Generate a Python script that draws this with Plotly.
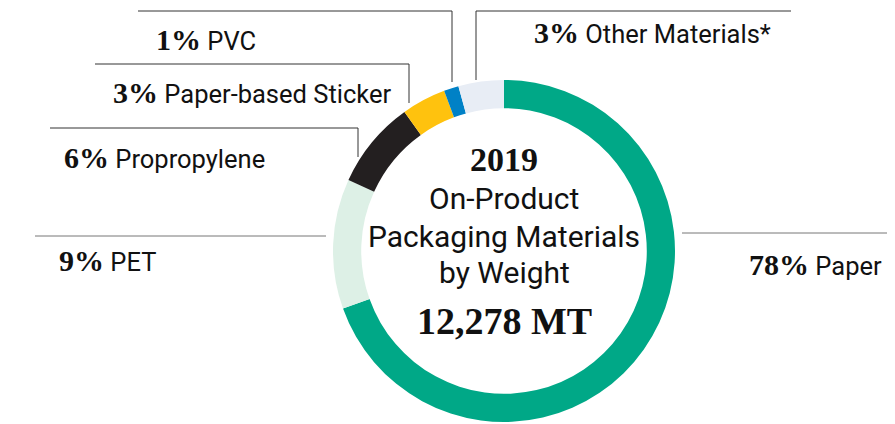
import plotly.graph_objects as go

# ---- data ----
materials = ["Paper", "PET", "Propropylene", "Paper-based Sticker", "PVC", "Other Materials*"]
label_pct = [78, 9, 6, 3, 1, 3]                  # percentages printed on the chart
drawn_share = [69.6, 12.3, 8.3, 4.2, 1.4, 4.3]   # arc sizes as drawn in the ring
colors = ["#00A887", "#DDF0E6", "#231F20", "#FFC20E", "#0081C6", "#E8EDF5"]
center_lines = ["2019", "On-Product", "Packaging Materials", "by Weight", "12,278 MT"]

W, H = 895, 424
OFF = 8  # default page body margin
SANS = "Roboto, Liberation Sans, sans-serif"
SERIF = "Liberation Serif"

# ring geometry (page pixels)
cx, cy, R = 504, 251, 171
FW, FH = W - OFF, H - OFF

fig = go.Figure()
fig.add_trace(go.Pie(
    labels=materials, values=drawn_share, sort=False, direction="clockwise",
    rotation=0, hole=0.835, textinfo="none", showlegend=False,
    marker=dict(colors=colors, line=dict(width=0)),
    customdata=label_pct, hovertemplate="%{label}: %{customdata}%<extra></extra>",
    domain=dict(x=[(cx - R - OFF) / FW, (cx + R - OFF) / FW],
                y=[(H - cy - R) / FH, (H - cy + R) / FH]),
))

# leader lines (page pixel coordinates on hidden axes)
leaders = [
    ([138, 452, 452], [11, 11, 82], "#333333"),
    ([791, 476, 476], [11, 11, 80], "#333333"),
    ([95, 409, 409], [64, 64, 103], "#333333"),
    ([50, 358, 358], [128, 128, 157], "#333333"),
    ([35, 326], [236, 236], "#777777"),
    ([682, 900], [233, 233], "#777777"),
]
shapes = []
for xs, ys, c in leaders:
    path = "M " + " L ".join(f"{x},{y}" for x, y in zip(xs, ys))
    shapes.append(dict(type="path", path=path, xref="x", yref="y",
                       line=dict(color=c, width=1)))

# labels: (index, left x, baseline y)
label_pos = {4: (155, 49), 5: (533, 42), 3: (112, 102), 2: (63, 167), 1: (58, 270), 0: (748, 274)}
annotations = []
for i, (x, yb) in label_pos.items():
    txt = (f"<b><span style='font-family:{SERIF};font-size:30px'>{label_pct[i]}%</span></b>"
           f" {materials[i]}")
    annotations.append(dict(x=x, y=yb - 10, xref="x", yref="y", text=txt, showarrow=False,
                            xanchor="left", yanchor="middle", borderpad=0,
                            font=dict(family=SANS, size=25.5, color="#111111")))

# center text
center_specs = [
    (center_lines[0], 172, SERIF, 34, True),
    (center_lines[1], 209, SANS, 30, False),
    (center_lines[2], 247, SANS, 30, False),
    (center_lines[3], 283, SANS, 30, False),
    (center_lines[4], 335, SERIF, 38, True),
]
for t, yb, fam, sz, bold in center_specs:
    annotations.append(dict(x=cx, y=yb - 0.36 * sz, xref="x", yref="y",
                            text=f"<b>{t}</b>" if bold else t, showarrow=False,
                            xanchor="center", yanchor="middle", borderpad=0,
                            font=dict(family=fam, size=sz, color="#111111")))

fig.update_layout(
    width=FW, height=FH, margin=dict(l=0, r=0, t=0, b=0),
    paper_bgcolor="white", plot_bgcolor="white",
    xaxis=dict(range=[OFF, W], visible=False, fixedrange=True),
    yaxis=dict(range=[H, OFF], visible=False, fixedrange=True),
    shapes=shapes, annotations=annotations,
)
fig.write_html("out.html")
